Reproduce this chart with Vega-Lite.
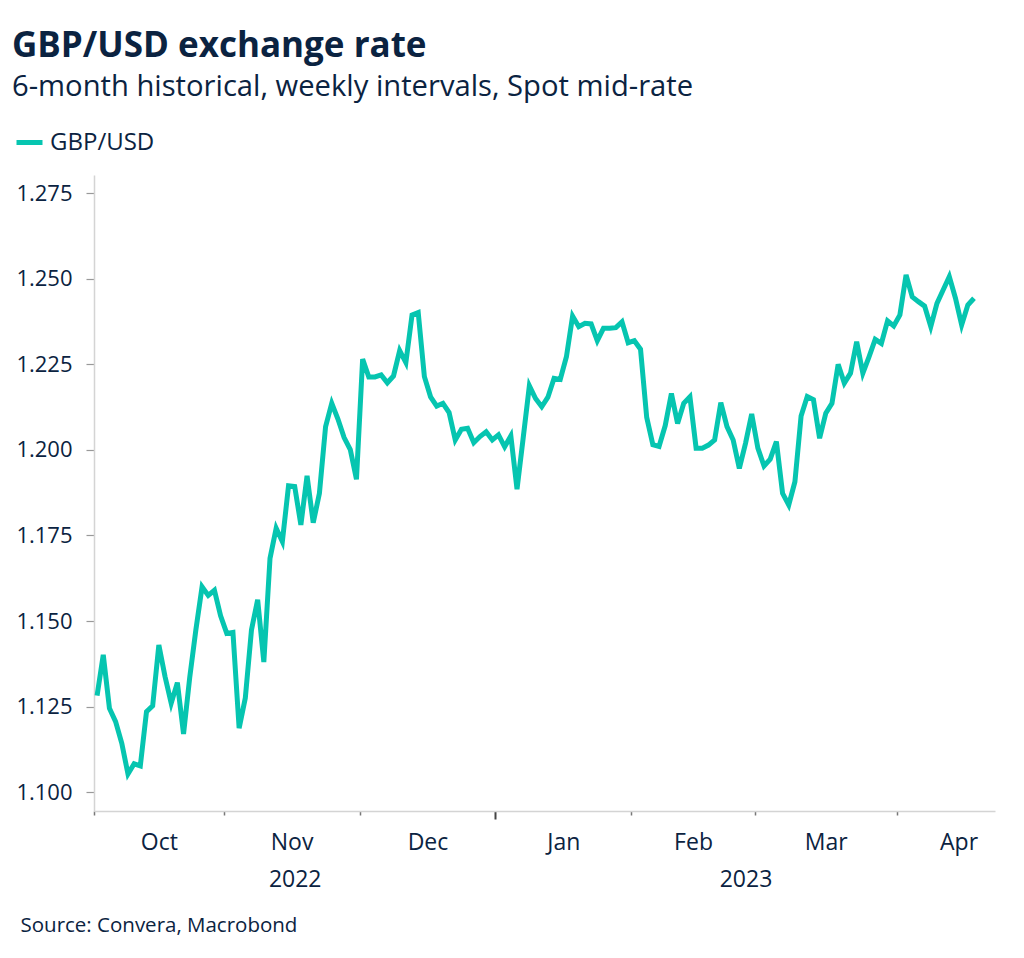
{
  "$schema": "https://vega.github.io/schema/vega-lite/v6.json",
  "width": 901,
  "height": 636,
  "autosize": {"type": "none"},
  "padding": {"left": 94, "top": 175, "right": 29, "bottom": 147},
  "background": "white",
  "config": {"view": {"stroke": null}, "font": "Open Sans"},
  "title": {
    "text": "GBP/USD exchange rate",
    "subtitle": "6-month historical, weekly intervals, Spot mid-rate",
    "anchor": "start",
    "frame": "group",
    "dx": -82,
    "font": "Open Sans",
    "fontSize": 35,
    "fontWeight": "bold",
    "color": "#0b2341",
    "subtitleFont": "Open Sans",
    "subtitleFontSize": 29.2,
    "subtitleColor": "#0b2341",
    "subtitlePadding": 9,
    "offset": 25
  },
  "data": {"values": [
    {"date":"2022-10-03","tradingDay":0,"rate":1.1282},
    {"date":"2022-10-04","tradingDay":1,"rate":1.1401},
    {"date":"2022-10-05","tradingDay":2,"rate":1.1245},
    {"date":"2022-10-06","tradingDay":3,"rate":1.1206},
    {"date":"2022-10-07","tradingDay":4,"rate":1.1143},
    {"date":"2022-10-10","tradingDay":5,"rate":1.1053},
    {"date":"2022-10-11","tradingDay":6,"rate":1.1083},
    {"date":"2022-10-12","tradingDay":7,"rate":1.1077},
    {"date":"2022-10-13","tradingDay":8,"rate":1.1235},
    {"date":"2022-10-14","tradingDay":9,"rate":1.1252},
    {"date":"2022-10-17","tradingDay":10,"rate":1.1430},
    {"date":"2022-10-18","tradingDay":11,"rate":1.1338},
    {"date":"2022-10-19","tradingDay":12,"rate":1.1260},
    {"date":"2022-10-20","tradingDay":13,"rate":1.1320},
    {"date":"2022-10-21","tradingDay":14,"rate":1.1170},
    {"date":"2022-10-24","tradingDay":15,"rate":1.1335},
    {"date":"2022-10-25","tradingDay":16,"rate":1.1475},
    {"date":"2022-10-26","tradingDay":17,"rate":1.1600},
    {"date":"2022-10-27","tradingDay":18,"rate":1.1575},
    {"date":"2022-10-28","tradingDay":19,"rate":1.1590},
    {"date":"2022-10-31","tradingDay":20,"rate":1.1515},
    {"date":"2022-11-01","tradingDay":21,"rate":1.1464},
    {"date":"2022-11-02","tradingDay":22,"rate":1.1467},
    {"date":"2022-11-03","tradingDay":23,"rate":1.1187},
    {"date":"2022-11-04","tradingDay":24,"rate":1.1275},
    {"date":"2022-11-07","tradingDay":25,"rate":1.1474},
    {"date":"2022-11-08","tradingDay":26,"rate":1.1562},
    {"date":"2022-11-09","tradingDay":27,"rate":1.1380},
    {"date":"2022-11-10","tradingDay":28,"rate":1.1683},
    {"date":"2022-11-11","tradingDay":29,"rate":1.1771},
    {"date":"2022-11-14","tradingDay":30,"rate":1.1732},
    {"date":"2022-11-15","tradingDay":31,"rate":1.1895},
    {"date":"2022-11-16","tradingDay":32,"rate":1.1893},
    {"date":"2022-11-17","tradingDay":33,"rate":1.1781},
    {"date":"2022-11-18","tradingDay":34,"rate":1.1924},
    {"date":"2022-11-21","tradingDay":35,"rate":1.1787},
    {"date":"2022-11-22","tradingDay":36,"rate":1.1873},
    {"date":"2022-11-23","tradingDay":37,"rate":1.2068},
    {"date":"2022-11-24","tradingDay":38,"rate":1.2136},
    {"date":"2022-11-25","tradingDay":39,"rate":1.2090},
    {"date":"2022-11-28","tradingDay":40,"rate":1.2036},
    {"date":"2022-11-29","tradingDay":41,"rate":1.2001},
    {"date":"2022-11-30","tradingDay":42,"rate":1.1914},
    {"date":"2022-12-01","tradingDay":43,"rate":1.2265},
    {"date":"2022-12-02","tradingDay":44,"rate":1.2213},
    {"date":"2022-12-05","tradingDay":45,"rate":1.2213},
    {"date":"2022-12-06","tradingDay":46,"rate":1.2219},
    {"date":"2022-12-07","tradingDay":47,"rate":1.2196},
    {"date":"2022-12-08","tradingDay":48,"rate":1.2216},
    {"date":"2022-12-09","tradingDay":49,"rate":1.2290},
    {"date":"2022-12-12","tradingDay":50,"rate":1.2255},
    {"date":"2022-12-13","tradingDay":51,"rate":1.2394},
    {"date":"2022-12-14","tradingDay":52,"rate":1.2401},
    {"date":"2022-12-15","tradingDay":53,"rate":1.2214},
    {"date":"2022-12-16","tradingDay":54,"rate":1.2155},
    {"date":"2022-12-19","tradingDay":55,"rate":1.2128},
    {"date":"2022-12-20","tradingDay":56,"rate":1.2136},
    {"date":"2022-12-21","tradingDay":57,"rate":1.2109},
    {"date":"2022-12-22","tradingDay":58,"rate":1.2029},
    {"date":"2022-12-23","tradingDay":59,"rate":1.2060},
    {"date":"2022-12-26","tradingDay":60,"rate":1.2063},
    {"date":"2022-12-27","tradingDay":61,"rate":1.2021},
    {"date":"2022-12-28","tradingDay":62,"rate":1.2039},
    {"date":"2022-12-29","tradingDay":63,"rate":1.2053},
    {"date":"2022-12-30","tradingDay":64,"rate":1.2029},
    {"date":"2023-01-02","tradingDay":65,"rate":1.2044},
    {"date":"2023-01-03","tradingDay":66,"rate":1.2009},
    {"date":"2023-01-04","tradingDay":67,"rate":1.2041},
    {"date":"2023-01-05","tradingDay":68,"rate":1.1885},
    {"date":"2023-01-06","tradingDay":69,"rate":1.2035},
    {"date":"2023-01-09","tradingDay":70,"rate":1.2187},
    {"date":"2023-01-10","tradingDay":71,"rate":1.2150},
    {"date":"2023-01-11","tradingDay":72,"rate":1.2126},
    {"date":"2023-01-12","tradingDay":73,"rate":1.2154},
    {"date":"2023-01-13","tradingDay":74,"rate":1.2209},
    {"date":"2023-01-16","tradingDay":75,"rate":1.2206},
    {"date":"2023-01-17","tradingDay":76,"rate":1.2272},
    {"date":"2023-01-18","tradingDay":77,"rate":1.2391},
    {"date":"2023-01-19","tradingDay":78,"rate":1.2360},
    {"date":"2023-01-20","tradingDay":79,"rate":1.2370},
    {"date":"2023-01-23","tradingDay":80,"rate":1.2368},
    {"date":"2023-01-24","tradingDay":81,"rate":1.2319},
    {"date":"2023-01-25","tradingDay":82,"rate":1.2355},
    {"date":"2023-01-26","tradingDay":83,"rate":1.2355},
    {"date":"2023-01-27","tradingDay":84,"rate":1.2357},
    {"date":"2023-01-30","tradingDay":85,"rate":1.2374},
    {"date":"2023-01-31","tradingDay":86,"rate":1.2313},
    {"date":"2023-02-01","tradingDay":87,"rate":1.2319},
    {"date":"2023-02-02","tradingDay":88,"rate":1.2294},
    {"date":"2023-02-03","tradingDay":89,"rate":1.2095},
    {"date":"2023-02-06","tradingDay":90,"rate":1.2015},
    {"date":"2023-02-07","tradingDay":91,"rate":1.2010},
    {"date":"2023-02-08","tradingDay":92,"rate":1.2071},
    {"date":"2023-02-09","tradingDay":93,"rate":1.2165},
    {"date":"2023-02-10","tradingDay":94,"rate":1.2077},
    {"date":"2023-02-13","tradingDay":95,"rate":1.2136},
    {"date":"2023-02-14","tradingDay":96,"rate":1.2155},
    {"date":"2023-02-15","tradingDay":97,"rate":1.2005},
    {"date":"2023-02-16","tradingDay":98,"rate":1.2005},
    {"date":"2023-02-17","tradingDay":99,"rate":1.2014},
    {"date":"2023-02-20","tradingDay":100,"rate":1.2029},
    {"date":"2023-02-21","tradingDay":101,"rate":1.2138},
    {"date":"2023-02-22","tradingDay":102,"rate":1.2068},
    {"date":"2023-02-23","tradingDay":103,"rate":1.2029},
    {"date":"2023-02-24","tradingDay":104,"rate":1.1946},
    {"date":"2023-02-27","tradingDay":105,"rate":1.2019},
    {"date":"2023-02-28","tradingDay":106,"rate":1.2105},
    {"date":"2023-03-01","tradingDay":107,"rate":1.2005},
    {"date":"2023-03-02","tradingDay":108,"rate":1.1953},
    {"date":"2023-03-03","tradingDay":109,"rate":1.1973},
    {"date":"2023-03-06","tradingDay":110,"rate":1.2024},
    {"date":"2023-03-07","tradingDay":111,"rate":1.1873},
    {"date":"2023-03-08","tradingDay":112,"rate":1.1839},
    {"date":"2023-03-09","tradingDay":113,"rate":1.1907},
    {"date":"2023-03-10","tradingDay":114,"rate":1.2099},
    {"date":"2023-03-13","tradingDay":115,"rate":1.2156},
    {"date":"2023-03-14","tradingDay":116,"rate":1.2147},
    {"date":"2023-03-15","tradingDay":117,"rate":1.2034},
    {"date":"2023-03-16","tradingDay":118,"rate":1.2107},
    {"date":"2023-03-17","tradingDay":119,"rate":1.2136},
    {"date":"2023-03-20","tradingDay":120,"rate":1.2250},
    {"date":"2023-03-21","tradingDay":121,"rate":1.2195},
    {"date":"2023-03-22","tradingDay":122,"rate":1.2224},
    {"date":"2023-03-23","tradingDay":123,"rate":1.2316},
    {"date":"2023-03-24","tradingDay":124,"rate":1.2224},
    {"date":"2023-03-27","tradingDay":125,"rate":1.2272},
    {"date":"2023-03-28","tradingDay":126,"rate":1.2323},
    {"date":"2023-03-29","tradingDay":127,"rate":1.2311},
    {"date":"2023-03-30","tradingDay":128,"rate":1.2377},
    {"date":"2023-03-31","tradingDay":129,"rate":1.2362},
    {"date":"2023-04-03","tradingDay":130,"rate":1.2394},
    {"date":"2023-04-04","tradingDay":131,"rate":1.2511},
    {"date":"2023-04-05","tradingDay":132,"rate":1.2447},
    {"date":"2023-04-06","tradingDay":133,"rate":1.2433},
    {"date":"2023-04-07","tradingDay":134,"rate":1.2420},
    {"date":"2023-04-10","tradingDay":135,"rate":1.2360},
    {"date":"2023-04-11","tradingDay":136,"rate":1.2428},
    {"date":"2023-04-12","tradingDay":137,"rate":1.2467},
    {"date":"2023-04-13","tradingDay":138,"rate":1.2506},
    {"date":"2023-04-14","tradingDay":139,"rate":1.2443},
    {"date":"2023-04-17","tradingDay":140,"rate":1.2365},
    {"date":"2023-04-18","tradingDay":141,"rate":1.2423},
    {"date":"2023-04-19","tradingDay":142,"rate":1.2443}
  ]},
  "layer": [
    {
      "mark": {"type": "line", "strokeWidth": 5, "clip": true},
      "encoding": {
        "x": {
          "field": "tradingDay", "type": "quantitative",
          "scale": {"domain": [-0.5, 145.4], "nice": false, "zero": false},
          "axis": {
            "orient": "bottom",
            "values": [-0.5, 20.5, 42.5, 64.5, 86.5, 106.5, 129.5],
            "labels": false, "grid": false, "title": null,
            "domainColor": "#d4d4d4", "domainWidth": 1.5,
            "tickColor": {"condition": {"test": "datum.value == 64.5", "value": "#444444"}, "value": "#777777"},
            "tickSize": {"condition": {"test": "datum.value == 64.5", "value": 8}, "value": 4},
            "tickWidth": {"condition": {"test": "datum.value == 64.5", "value": 2}, "value": 1.5}
          }
        },
        "y": {
          "field": "rate", "type": "quantitative",
          "scale": {"domain": [1.0945, 1.2803], "nice": false, "zero": false},
          "axis": {
            "orient": "left",
            "values": [1.1, 1.125, 1.15, 1.175, 1.2, 1.225, 1.25, 1.275],
            "format": ".3f", "grid": false, "title": null,
            "domainColor": "#d4d4d4", "domainWidth": 1.5,
            "tickColor": "#999999", "tickSize": 8, "tickWidth": 1.2,
            "labelPadding": 14, "labelFontSize": 22, "labelColor": "#0b2341", "labelFont": "Open Sans"
          }
        },
        "color": {
          "datum": "GBP/USD", "type": "nominal",
          "scale": {"range": ["#06c5b0"]},
          "legend": {
            "title": null, "orient": "none", "legendX": -80, "legendY": -48,
            "symbolType": "stroke", "symbolStrokeWidth": 5, "symbolSize": 676,
            "labelFontSize": 24, "labelColor": "#0b2341", "labelFont": "Open Sans", "labelOffset": 5
          }
        }
      }
    },
    {
      "mark": {"type": "rule", "opacity": 0},
      "encoding": {
        "x": {
          "field": "tradingDay", "type": "quantitative",
          "scale": {"domain": [-0.5, 145.4], "nice": false, "zero": false},
          "axis": {
            "orient": "bottom",
            "values": [10, 31.5, 53.5, 75.5, 96.5, 118, 139.5],
            "labelExpr": "datum.value < 20 ? 'Oct' : datum.value < 40 ? 'Nov' : datum.value < 60 ? 'Dec' : datum.value < 80 ? 'Jan' : datum.value < 100 ? 'Feb' : datum.value < 125 ? 'Mar' : 'Apr'",
            "ticks": false, "domain": false, "grid": false, "title": null,
            "labelPadding": 20, "labelFontSize": 23, "labelColor": "#0b2341", "labelFont": "Open Sans",
            "labelFlush": false, "labelOverlap": false, "labelBound": false
          }
        }
      }
    },
    {
      "mark": {"type": "rule", "opacity": 0},
      "encoding": {
        "x": {
          "field": "tradingDay", "type": "quantitative",
          "scale": {"domain": [-0.5, 145.4], "nice": false, "zero": false},
          "axis": {
            "orient": "bottom",
            "values": [32, 105],
            "labelExpr": "datum.value < 64.5 ? '2022' : '2023'",
            "ticks": false, "domain": false, "grid": false,
            "labelPadding": 57, "labelFontSize": 23, "labelColor": "#0b2341", "labelFont": "Open Sans",
            "labelFlush": false, "labelOverlap": false, "labelBound": false,
            "title": "Source: Convera, Macrobond",
            "titleFont": "Open Sans", "titleFontSize": 20.5, "titleFontWeight": "normal", "titleColor": "#0b2341",
            "titleAnchor": "start", "titleAlign": "left", "titleBaseline": "alphabetic",
            "titleX": -74, "titleY": 120
          }
        }
      }
    }
  ],
  "resolve": {"axis": {"x": "independent"}}
}
